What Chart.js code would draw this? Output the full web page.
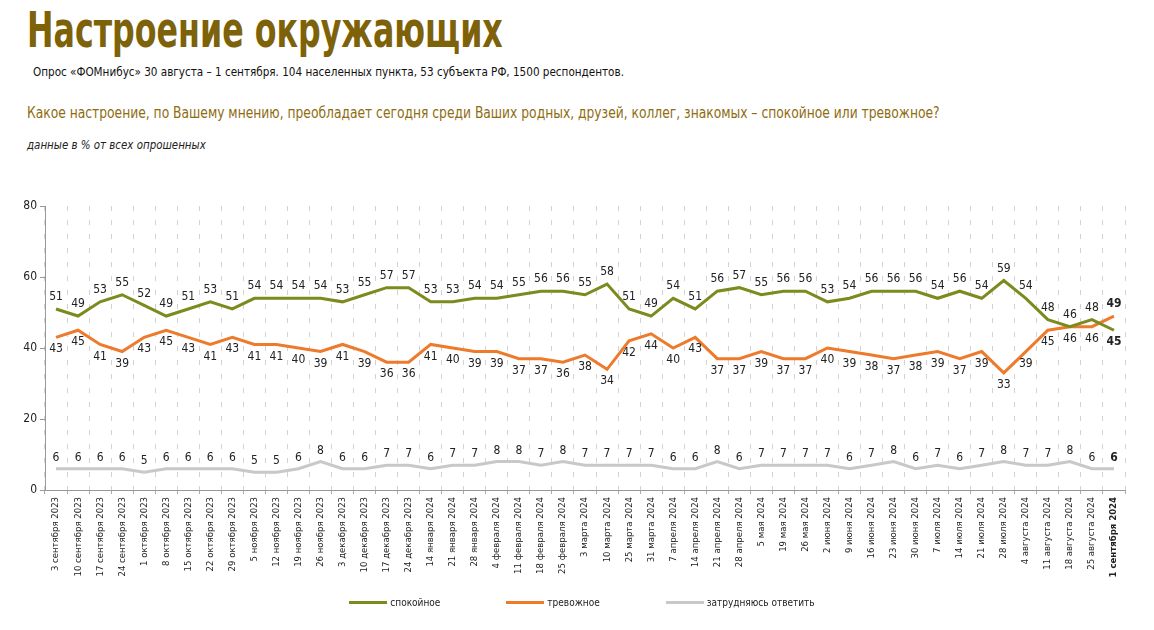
<!DOCTYPE html>
<html lang="ru">
<head>
<meta charset="utf-8">
<title>Настроение окружающих</title>
<script src="https://cdn.jsdelivr.net/npm/chart.js@4.4.1/dist/chart.umd.min.js"></script>
<style>
body{margin:0;width:1154px;height:630px;background:#fff;position:relative;overflow:hidden;
  font-family:'Liberation Sans Narrow','DejaVu Sans Condensed',Roboto,sans-serif;color:#222;}
.fit{position:absolute;white-space:nowrap;transform-origin:0 50%;line-height:1;}
#title{left:27px;top:6px;font-size:49px;font-weight:bold;color:#7d6209;}
#sub{left:33px;top:65px;font-size:13px;color:#111;}
#question{left:27px;top:105px;font-size:16px;color:#8e6c10;}
#note{left:27px;top:138px;font-size:13px;font-style:italic;color:#222;}
#wrap{position:absolute;left:0;top:190px;width:1154px;height:410px;}
#legend{position:absolute;left:0;top:597px;width:1164px;display:flex;justify-content:center;gap:66px;font-size:10px;color:#222;}
#legend span.item{display:flex;align-items:center;}
#legend span.line{display:inline-block;width:38px;height:3px;margin-right:3px;}
</style>
</head>
<body>
<div id="title" class="fit" data-w="476">Настроение окружающих</div>
<div id="sub" class="fit" data-w="591">Опрос «ФОМнибус» 30 августа – 1 сентября. 104 населенных пункта, 53 субъекта РФ, 1500 респондентов.</div>
<div id="question" class="fit" data-w="913">Какое настроение, по Вашему мнению, преобладает сегодня среди Ваших родных, друзей, коллег, знакомых – спокойное или тревожное?</div>
<div id="note" class="fit" data-w="179">данные в % от всех опрошенных</div>
<div id="wrap"><canvas id="chart"></canvas></div>
<div id="legend"></div>
<script>
const dates = ['3 сентября 2023','10 сентября 2023','17 сентября 2023','24 сентября 2023','1 октября 2023',
  '8 октября 2023','15 октября 2023','22 октября 2023','29 октября 2023','5 ноября 2023','12 ноября 2023',
  '19 ноября 2023','26 ноября 2023','3 декабря 2023','10 декабря 2023','17 декабря 2023','24 декабря 2023',
  '14 января 2024','21 января 2024','28 января 2024','4 февраля 2024','11 февраля 2024','18 февраля 2024',
  '25 февраля 2024','3 марта 2024','10 марта 2024','25 марта 2024','31 марта 2024','7 апреля 2024',
  '14 апреля 2024','21 апреля 2024','28 апреля 2024','5 мая 2024','19 мая 2024','26 мая 2024','2 июня 2024',
  '9 июня 2024','16 июня 2024','23 июня 2024','30 июня 2024','7 июля 2024','14 июля 2024','21 июля 2024',
  '28 июля 2024','4 августа 2024','11 августа 2024','18 августа 2024','25 августа 2024','1 сентября 2024'];

const calm = [51,49,53,55,52,49,51,53,51,54,54,54,54,53,55,57,57,53,53,54,54,55,56,56,55,
  58,51,49,54,51,56,57,55,56,56,53,54,56,56,56,54,56,54,59,54,48,46,48,45];
const anxious = [43,45,41,39,43,45,43,41,43,41,41,40,39,41,39,36,36,41,40,39,39,37,37,36,38,
  34,42,44,40,43,37,37,39,37,37,40,39,38,37,38,39,37,39,33,39,45,46,46,49];
const unsure = [6,6,6,6,5,6,6,6,6,5,5,6,8,6,6,7,7,6,7,7,8,8,7,8,7,
  7,7,7,6,6,8,6,7,7,7,7,6,7,8,6,7,6,7,8,7,7,8,6,6];

const yTicks = [0,20,40,60,80];

// squeeze the headings to the widths of the original
document.querySelectorAll('.fit').forEach(el=>{
  const k = el.dataset.w / el.offsetWidth;
  el.style.transform = 'scaleX(' + k + ')';
});

const last = dates.length - 1;
const baseFont = "'Liberation Sans Narrow','DejaVu Sans Condensed',Roboto,sans-serif";

// value labels: calm above, anxious below (swapped at the last point where they cross)
const valueLabels = {
  id: 'valueLabels',
  afterDatasetsDraw(chart){
    const ctx = chart.ctx;
    ctx.save();
    ctx.textAlign = 'center';
    ctx.textBaseline = 'middle';
    ctx.fillStyle = '#222';
    chart.data.datasets.forEach((ds, di)=>{
      const meta = chart.getDatasetMeta(di);
      meta.data.forEach((pt, i)=>{
        let dy = ds.labelPos === 'below' ? 12 : -12;
        if (i === last && di < 2) dy = -dy;
        if (di === 2) dy = -11;
        ctx.font = (i === last ? 'bold ' : '') + '12px ' + baseFont;
        ctx.fillText(ds.data[i], pt.x, pt.y + dy);
      });
    });
    ctx.restore();
  }
};

const chart = new Chart(document.getElementById('chart'), {
  type: 'line',
  data: {
    labels: dates,
    datasets: [
      {label:'спокойное', data:calm, borderColor:'#7d8a1e', labelPos:'above'},
      {label:'тревожное', data:anxious, borderColor:'#ee7a2c', labelPos:'below'},
      {label:'затрудняюсь ответить', data:unsure, borderColor:'#c8c8c8', labelPos:'above'}
    ]
  },
  options: {
    responsive: true,
    maintainAspectRatio: false,
    animation: false,
    layout: {padding: {top: 16, right: 29, left: 0, bottom: 0}},
    elements: {
      line: {borderWidth: 3, tension: 0},
      point: {radius: 0, hoverRadius: 0}
    },
    plugins: {legend: {display: false}, tooltip: {enabled: false}},
    scales: {
      x: {
        offset: true,
        grid: {offset: true, color: '#d2d2d2', tickColor: '#aaa', tickLength: 4, tickBorderDash: []},
        border: {color: '#999', dash: [5, 9]},
        ticks: {
          maxRotation: 90, minRotation: 90, autoSkip: false, padding: 3, color: '#222',
          font: c => ({family: baseFont, size: 9.5, weight: c.index === last ? 'bold' : 'normal'})
        },
        afterFit: s => { s.height = 110; }
      },
      y: {
        min: 0, max: 80,
        afterBuildTicks: s => { s.ticks = yTicks.map(v => ({value: v})); },
        grid: {drawOnChartArea: false, tickLength: 5, tickColor: '#999'},
        border: {color: '#999'},
        ticks: {color: '#222', padding: 3, font: {family: baseFont, size: 12}},
        afterFit: s => { s.width = 45; }
      }
    }
  },
  plugins: [valueLabels]
});

// legend built from the datasets
const legend = document.getElementById('legend');
chart.data.datasets.forEach(ds=>{
  const item = document.createElement('span');
  item.className = 'item';
  item.innerHTML = '<span class="line" style="background:' + ds.borderColor + '"></span>' + ds.label;
  legend.appendChild(item);
});
</script>
</body>
</html>
